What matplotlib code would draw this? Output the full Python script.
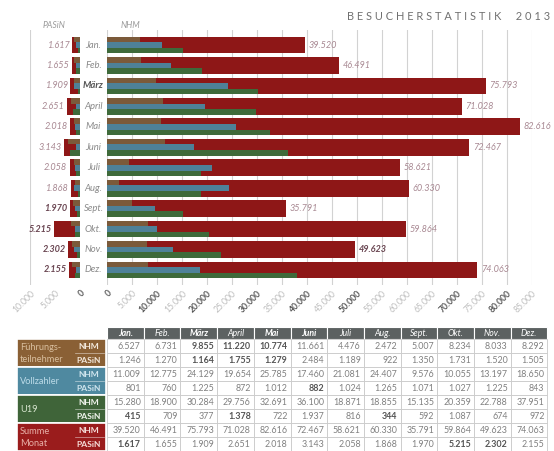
import matplotlib
matplotlib.use("Agg")
import matplotlib.pyplot as plt
from matplotlib.patches import Rectangle
from matplotlib.transforms import blended_transform_factory

plt.rcParams['font.family'] = ['Lato', 'DejaVu Sans']

# ---------------- data ----------------
months = ["Jan.", "Feb.", "März", "April", "Mai", "Juni", "Juli", "Aug.", "Sept.", "Okt.", "Nov.", "Dez."]
fuehr_nhm = [6527, 6731, 9855, 11220, 10774, 11661, 4476, 2472, 5007, 8234, 8033, 8292]
fuehr_pasin = [1246, 1270, 1164, 1755, 1279, 2484, 1189, 922, 1350, 1731, 1520, 1505]
voll_nhm = [11009, 12775, 24129, 19654, 25785, 17460, 21081, 24407, 9576, 10055, 13197, 18650]
voll_pasin = [801, 760, 1225, 872, 1012, 882, 1024, 1265, 1071, 1027, 1225, 843]
u19_nhm = [15280, 18900, 30284, 29756, 32691, 36100, 18871, 18855, 15135, 20359, 22788, 37951]
u19_pasin = [415, 709, 377, 1378, 722, 1937, 816, 344, 592, 1087, 674, 972]
sum_nhm = [39520, 46491, 75793, 71028, 82616, 72467, 58621, 60330, 35791, 59864, 49623, 74063]
sum_pasin = [1617, 1655, 1909, 2651, 2018, 3143, 2058, 1868, 1970, 5215, 2302, 2155]
nhm_ticks = list(range(0, 85001, 5000))
pasin_ticks = [10000, 5000, 0]
title = "BESUCHERSTATISTIK 2013"

# ---------------- styles ----------------
RED = '#8e1717'
BROWN = '#7b5a3a'
TEAL = '#4e8198'
GREEN = '#3e6a3a'
cat_colors = ['#8a6035', '#4f89a0', '#3f6439', '#9a1c1c']
cat_text_colors = ['#d9bf9f', '#bcdbe8', '#d8e6d0', '#e8b0a8']
sub_text_colors = ['#f2e8dc', '#cfe5ee', '#f0f4ec', '#f5dcd8']
LBL = '#a88892'
LBL_DARK = '#6a4652'
dark_ticks = {0, 10000, 20000, 30000, 40000, 50000, 70000, 80000}

def fmt(v):
    return f"{v:,}".replace(",", ".")

W, H = 554, 451
fig = plt.figure(figsize=(W / 100, H / 100), dpi=100)
fig.patch.set_facecolor('white')

def fx(x):
    return x / W

top_px, bot_px = 29.7, 285.3
bottom = 1 - bot_px / H
height = (bot_px - top_px) / H

ax = fig.add_axes([fx(107), bottom, fx(425), height])
axL = fig.add_axes([fx(30), bottom, fx(50), height])

n = len(months)
ys = list(range(n))
bh = 0.82
sh = bh / 3

for a, tot, f, v, u, lim in [(ax, sum_nhm, fuehr_nhm, voll_nhm, u19_nhm, (0, 85000)),
                             (axL, sum_pasin, fuehr_pasin, voll_pasin, u19_pasin, (10000, 0))]:
    a.barh(ys, tot, height=bh, color=RED, zorder=2)
    a.barh([y - sh for y in ys], f, height=sh, color=BROWN, zorder=3)
    a.barh(ys, v, height=sh, color=TEAL, zorder=3)
    a.barh([y + sh for y in ys], u, height=sh, color=GREEN, zorder=3)
    a.set_xlim(*lim)
    a.set_ylim(n - 0.25, -0.75)
    for s in a.spines.values():
        s.set_visible(False)
    a.set_yticks([])
    a.tick_params(axis='x', length=0, pad=2.5)
    a.set_facecolor('none')

ax.set_xticks(nhm_ticks)
ax.set_xticklabels([fmt(t) for t in nhm_ticks], rotation=45, ha='right',
                   rotation_mode='anchor', fontsize=6.2)
for t, lab in zip(nhm_ticks, ax.get_xticklabels()):
    if t in dark_ticks:
        lab.set_color('#555555'); lab.set_fontweight('bold')
    else:
        lab.set_color('#bdbdbd')
for t in nhm_ticks:
    ax.axvline(t, color='#d2d2d2', lw=0.8, zorder=1)

axL.set_xticks(pasin_ticks)
axL.set_xticklabels([fmt(t) for t in pasin_ticks], rotation=45, ha='right',
                    rotation_mode='anchor', fontsize=6.2)
for t, lab in zip(pasin_ticks, axL.get_xticklabels()):
    if t == 0:
        lab.set_color('#555555'); lab.set_fontweight('bold')
    else:
        lab.set_color('#bdbdbd')
axL.axvline(10000, color='#d2d2d2', lw=0.8, zorder=1)

# value labels
for i, v in enumerate(sum_nhm):
    bold = (i == 10)
    ax.text(v + 700, i, fmt(v), va='center', ha='left', style='italic', fontsize=6.6,
            color=LBL_DARK if bold else LBL, fontweight='bold' if bold else 'normal')
for i, v in enumerate(sum_pasin):
    bold = i >= 8
    axL.text(v + 500, i, fmt(v), va='center', ha='right', style='italic', fontsize=6.6,
             color=LBL_DARK if bold else LBL, fontweight='bold' if bold else 'normal')

# month labels
tr = blended_transform_factory(fig.transFigure, ax.transData)
for i, m in enumerate(months):
    ax.text(fx(93.5), i, m, transform=tr, ha='center', va='center', style='italic',
            fontsize=6.8, color='#555555' if m == "März" else '#8a8a8a',
            fontweight='bold' if m == "März" else 'normal', clip_on=False)

fig.text(fx(54), 1 - 26 / H, "PASiN", ha='center', va='center', style='italic',
         fontsize=6.2, color='#9a9a9a')
fig.text(fx(130), 1 - 26 / H, "NHM", ha='center', va='center', style='italic',
         fontsize=6.2, color='#9a9a9a')
fig.text(fx(550), 1 - 16 / H, "  ".join(title.split(" ")).replace("", " ").strip(),
         ha='right', va='center', fontsize=7.9, color='#707070')

# ---------------- table ----------------
tab = fig.add_axes([0, 0, 1, 1])
tab.set_xlim(0, W)
tab.set_ylim(H, 0)
tab.axis('off')
tab.set_zorder(-1)

x0, cw = 107, 36.7
hy, hh = 327, 12
ry0, rh = 339, 14
header_bold = {"Jan.", "März", "Mai", "Juni"}
for j, m in enumerate(months):
    tab.add_patch(Rectangle((x0 + j * cw, hy), cw, hh, fc='#5c6161', ec='white', lw=0.8))
    tab.text(x0 + j * cw + cw / 2, hy + hh / 2 + 0.5, m, ha='center', va='center',
             color='white', style='italic', fontsize=6.3,
             fontweight='bold' if m in header_bold else 'normal')

rows = [fuehr_nhm, fuehr_pasin, voll_nhm, voll_pasin, u19_nhm, u19_pasin, sum_nhm, sum_pasin]
bold_cells = {(0, 2), (0, 3), (0, 4), (1, 2), (1, 3), (1, 4), (3, 5),
              (5, 0), (5, 3), (5, 7), (7, 0), (7, 9), (7, 10)}
for r, vals in enumerate(rows):
    y = ry0 + r * rh
    for j, v in enumerate(vals):
        tab.add_patch(Rectangle((x0 + j * cw, y), cw, rh, fc='white', ec='#c9c9c9', lw=0.6))
        b = (r, j) in bold_cells
        tab.text(x0 + (j + 1) * cw - 3, y + rh / 2 + 0.5, fmt(v), ha='right', va='center',
                 fontsize=6.4, color='#555555' if b else '#808080',
                 fontweight='bold' if b else 'normal')

cat_labels = ["Führungs-\nteilnehmer", "Vollzahler", "U19", "Summe\nMonat"]
for g in range(4):
    y = ry0 + g * 2 * rh
    tab.add_patch(Rectangle((17, y), 89, 2 * rh, fc=cat_colors[g], ec='white', lw=1.2))
    tab.plot([75, 104], [y + rh, y + rh], color='white', lw=0.5, alpha=0.6)
    tab.text(20, y + rh + 0.5, cat_labels[g], ha='left', va='center', fontsize=6.7,
             color=cat_text_colors[g], linespacing=1.45)
    for k, s in enumerate(["NHM", "PASiN"]):
        tab.text(89, y + k * rh + rh / 2 + 0.5, s, ha='center', va='center', fontsize=6.1,
                 fontweight='bold', color=sub_text_colors[g])

fig.savefig("out.png", dpi=100, facecolor='white')
